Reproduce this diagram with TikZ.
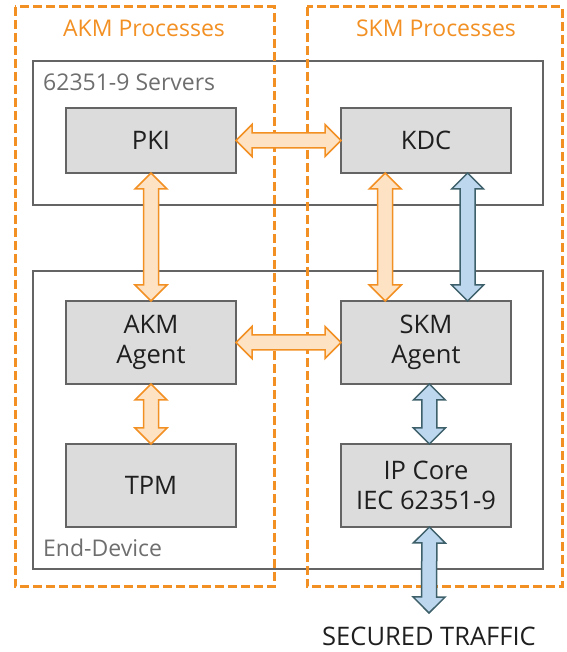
\documentclass[tikz,border=0pt]{standalone}
\usepackage{fontspec}
\setmainfont{Open Sans}
\usetikzlibrary{calc,positioning}

\definecolor{dashorange}{RGB}{242,144,36}
\definecolor{orangefill}{RGB}{253,226,196}
\definecolor{bluefill}{RGB}{189,215,238}
\definecolor{blueline}{RGB}{62,96,106}
\definecolor{boxgray}{RGB}{220,220,220}
\definecolor{linegray}{RGB}{100,100,100}
\definecolor{labelgray}{RGB}{110,110,110}

% fat double arrow between two points
\newcommand{\headlen}{16pt}
\newcommand{\headw}{16pt}
\newcommand{\shaftw}{7.5pt}
\newcommand{\fatarrow}[3]{%
  \coordinate (ha) at ($(#2)!\headlen!(#3)$);
  \coordinate (hb) at ($(#3)!\headlen!(#2)$);
  \draw[#1] (#2) -- ($(ha)!\headw!90:(#3)$) -- ($(ha)!\shaftw!90:(#3)$)
    -- ($(hb)!\shaftw!-90:(#2)$) -- ($(hb)!\headw!-90:(#2)$) -- (#3)
    -- ($(hb)!\headw!90:(#2)$) -- ($(hb)!\shaftw!90:(#2)$)
    -- ($(ha)!\shaftw!-90:(#3)$) -- ($(ha)!\headw!-90:(#3)$) -- cycle;}

\begin{document}
\begin{tikzpicture}[x=1pt,y=1pt,
  unit/.style={draw=linegray,fill=boxgray,line width=2pt,minimum width=170pt,
    minimum height=83pt,align=center,outer sep=0pt,text=black!88,
    font=\fontsize{25.5}{30}\selectfont},
  groupbox/.style={draw=linegray,line width=2pt},
  process/.style={draw=dashorange,line width=3pt,dash pattern=on 9pt off 4pt},
  akmarrow/.style={draw=dashorange,fill=orangefill,line width=1.5pt},
  skmarrow/.style={draw=blueline,fill=bluefill,line width=1.5pt},
  grouplabel/.style={font=\fontsize{23}{27}\selectfont,inner sep=0pt}]

  \useasboundingbox (0,0) rectangle (566,652);

  % device groups
  \draw[groupbox] (33,591) rectangle (543,447);
  \draw[groupbox] (33,381) rectangle (543,83);
  \node[grouplabel,text=labelgray,anchor=west] (servers) at (43,570) {62351-9 Servers};
  \node[grouplabel,text=labelgray,anchor=west] (enddevice) at (43,104) {End-Device};

  % processes
  \draw[process] (15,645) rectangle (274,65);
  \draw[process] (307,645) rectangle (562,65);
  \node[grouplabel,text=dashorange] (akmproc) at (144,624) {AKM Processes};
  \node[grouplabel,text=dashorange] (skmproc) at (436,624) {SKM Processes};

  % units
  \node[unit,minimum height=65pt]         (pki)    at (151,511.5) {PKI};
  \node[unit,minimum height=65pt,right=105pt of pki] (kdc) {KDC};
  \node[unit,below=128pt of pki]          (akm)    {AKM\\Agent};
  \node[unit,right=105pt of akm]          (skm)    {SKM\\Agent};
  \node[unit,below=60pt of akm]           (tpm)    {TPM};
  \node[unit,below=60pt of skm]           (ipcore) {IP Core\\IEC 62351-9};

  \coordinate (kdca) at ($(kdc.south west)!0.26!(kdc.south east)$);
  \coordinate (skma) at ($(skm.north west)!0.26!(skm.north east)$);
  \coordinate (kdcb) at ($(kdc.south west)!0.745!(kdc.south east)$);
  \coordinate (skmb) at ($(skm.north west)!0.745!(skm.north east)$);
  \coordinate (skmc) at ($(skm.south west)!0.52!(skm.south east)$);
  \coordinate (ipin) at ($(ipcore.north west)!0.52!(ipcore.north east)$);
  \coordinate (ipout) at ($(ipcore.south west)!0.52!(ipcore.south east)$);
  \node[grouplabel,font=\fontsize{25.5}{30}\selectfont,text=black!88] (traffic) at (429,16) {SECURED TRAFFIC};
  \coordinate (trafficend) at (429,39);

  % key exchanges
  \fatarrow{akmarrow}{pki.east}{kdc.west}
  \fatarrow{akmarrow}{pki.south}{akm.north}
  \fatarrow{akmarrow}{akm.east}{skm.west}
  \fatarrow{akmarrow}{akm.south}{tpm.north}
  \fatarrow{akmarrow}{kdca}{skma}
  \fatarrow{skmarrow}{kdcb}{skmb}
  \fatarrow{skmarrow}{skmc}{ipin}
  \fatarrow{skmarrow}{ipout}{trafficend}
\end{tikzpicture}
\end{document}
